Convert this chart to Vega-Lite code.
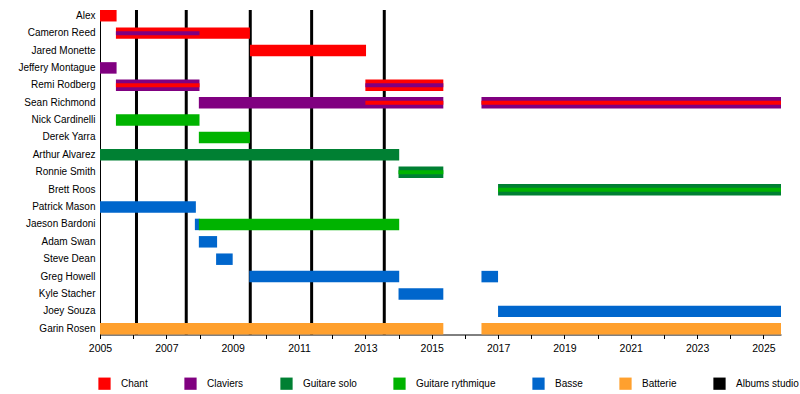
{
  "$schema": "https://vega.github.io/schema/vega-lite/v6.json",
  "autosize": {"type": "none"},
  "width": 681,
  "height": 324.5,
  "padding": {"left": 100, "right": 19, "top": 10, "bottom": 59.5},
  "config": {
    "view": {"stroke": null},
    "font": "Liberation Sans",
    "axis": {"domainColor": "#000000", "tickColor": "#000000", "labelColor": "#000000", "labelFont": "Liberation Sans", "grid": false, "title": null}
  },
  "datasets": {
    "bars": [
      {"name": "Alex", "role": "Chant", "start": 2005, "end": 2005.5, "part": "outer"},
      {"name": "Cameron Reed", "role": "Chant", "start": 2005.48, "end": 2009.52, "part": "outer"},
      {"name": "Jared Monette", "role": "Chant", "start": 2009.52, "end": 2013.02, "part": "outer"},
      {"name": "Jeffery Montague", "role": "Claviers", "start": 2005, "end": 2005.5, "part": "outer"},
      {"name": "Remi Rodberg", "role": "Claviers", "start": 2005.48, "end": 2008.0, "part": "outer"},
      {"name": "Remi Rodberg", "role": "Chant", "start": 2013.0, "end": 2015.35, "part": "outer"},
      {"name": "Sean Richmond", "role": "Claviers", "start": 2007.98, "end": 2015.35, "part": "outer"},
      {"name": "Sean Richmond", "role": "Claviers", "start": 2016.5, "end": 2025.53, "part": "outer"},
      {"name": "Nick Cardinelli", "role": "Guitare rythmique", "start": 2005.48, "end": 2008.0, "part": "outer"},
      {"name": "Derek Yarra", "role": "Guitare rythmique", "start": 2007.98, "end": 2009.52, "part": "outer"},
      {"name": "Arthur Alvarez", "role": "Guitare solo", "start": 2005, "end": 2014.02, "part": "outer"},
      {"name": "Ronnie Smith", "role": "Guitare solo", "start": 2014.0, "end": 2015.35, "part": "outer"},
      {"name": "Brett Roos", "role": "Guitare solo", "start": 2017.0, "end": 2025.53, "part": "outer"},
      {"name": "Patrick Mason", "role": "Basse", "start": 2005, "end": 2007.89, "part": "outer"},
      {"name": "Jaeson Bardoni", "role": "Basse", "start": 2007.86, "end": 2008.0, "part": "outer"},
      {"name": "Jaeson Bardoni", "role": "Guitare rythmique", "start": 2007.98, "end": 2014.02, "part": "outer"},
      {"name": "Adam Swan", "role": "Basse", "start": 2007.98, "end": 2008.53, "part": "outer"},
      {"name": "Steve Dean", "role": "Basse", "start": 2008.5, "end": 2009.0, "part": "outer"},
      {"name": "Greg Howell", "role": "Basse", "start": 2009.5, "end": 2014.02, "part": "outer"},
      {"name": "Greg Howell", "role": "Basse", "start": 2016.5, "end": 2017.0, "part": "outer"},
      {"name": "Kyle Stacher", "role": "Basse", "start": 2014.0, "end": 2015.35, "part": "outer"},
      {"name": "Joey Souza", "role": "Basse", "start": 2017.0, "end": 2025.53, "part": "outer"},
      {"name": "Garin Rosen", "role": "Batterie", "start": 2005, "end": 2015.35, "part": "outer"},
      {"name": "Garin Rosen", "role": "Batterie", "start": 2016.5, "end": 2025.53, "part": "outer"},
      {"name": "Cameron Reed", "role": "Claviers", "start": 2005.48, "end": 2008.0, "part": "inner"},
      {"name": "Remi Rodberg", "role": "Chant", "start": 2005.48, "end": 2008.0, "part": "inner"},
      {"name": "Remi Rodberg", "role": "Claviers", "start": 2013.0, "end": 2015.35, "part": "inner"},
      {"name": "Sean Richmond", "role": "Chant", "start": 2013.0, "end": 2015.35, "part": "inner"},
      {"name": "Sean Richmond", "role": "Chant", "start": 2016.5, "end": 2025.53, "part": "inner"},
      {"name": "Ronnie Smith", "role": "Guitare rythmique", "start": 2014.0, "end": 2015.35, "part": "inner"},
      {"name": "Brett Roos", "role": "Guitare rythmique", "start": 2017.0, "end": 2025.53, "part": "inner"}
    ],
    "albums": [
      {"year": 2006.1},
      {"year": 2007.6},
      {"year": 2009.53},
      {"year": 2011.38},
      {"year": 2013.57}
    ]
  },
  "encoding": {
    "x": {
      "type": "quantitative",
      "scale": {"domain": [2005, 2025.53], "nice": false, "zero": false},
      "axis": {
        "values": [2005, 2006, 2007, 2008, 2009, 2010, 2011, 2012, 2013, 2014, 2015, 2016, 2017, 2018, 2019, 2020, 2021, 2022, 2023, 2024, 2025],
        "labelExpr": "datum.value % 2 == 1 ? format(datum.value, 'd') : ''",
        "labelOverlap": false,
        "labelFlush": false,
        "tickSize": 4,
        "labelPadding": 5,
        "labelFontSize": 10.5,
        "domainWidth": 1
      }
    }
  },
  "layer": [
    {
      "data": {"name": "albums"},
      "mark": {"type": "rule", "strokeWidth": 3, "color": "#000000"},
      "encoding": {
        "x": {"field": "year", "type": "quantitative"}
      }
    },
    {
      "data": {"name": "bars"},
      "transform": [{"filter": "datum.part == 'outer'"}],
      "mark": {"type": "bar", "cornerRadius": 0},
      "encoding": {
        "y": {
          "field": "name", "type": "nominal", "sort": null,
          "scale": {"domain": ["Alex", "Cameron Reed", "Jared Monette", "Jeffery Montague", "Remi Rodberg", "Sean Richmond", "Nick Cardinelli", "Derek Yarra", "Arthur Alvarez", "Ronnie Smith", "Brett Roos", "Patrick Mason", "Jaeson Bardoni", "Adam Swan", "Steve Dean", "Greg Howell", "Kyle Stacher", "Joey Souza", "Garin Rosen"], "paddingInner": 0.34, "paddingOuter": 0},
          "axis": {"ticks": false, "labelPadding": 5, "labelFontSize": 10, "domainWidth": 1, "domainColor": "#000000"}
        },
        "x": {"field": "start", "type": "quantitative"},
        "x2": {"field": "end"},
        "color": {
          "field": "role", "type": "nominal",
          "scale": {
            "domain": ["Chant", "Claviers", "Guitare solo", "Guitare rythmique", "Basse", "Batterie", "Albums studio"],
            "range": ["#ff0000", "#800080", "#008033", "#00b300", "#0066cc", "#ffa02e", "#000000"]
          },
          "legend": {
            "orient": "none", "legendX": -2, "legendY": 367, "direction": "horizontal", "title": null,
            "symbolType": "square", "symbolSize": 150, "symbolStrokeWidth": 0, "symbolOpacity": 1,
            "labelFontSize": 10, "labelFont": "Liberation Sans", "labelColor": "#000000", "labelOffset": 10,
            "columnPadding": 36, "padding": 0
          }
        }
      }
    },
    {
      "data": {"name": "bars"},
      "transform": [{"filter": "datum.part == 'inner'"}],
      "mark": {"type": "bar", "size": 4},
      "encoding": {
        "y": {"field": "name", "type": "nominal", "sort": null},
        "x": {"field": "start", "type": "quantitative"},
        "x2": {"field": "end"},
        "color": {"field": "role", "type": "nominal"}
      }
    }
  ]
}
